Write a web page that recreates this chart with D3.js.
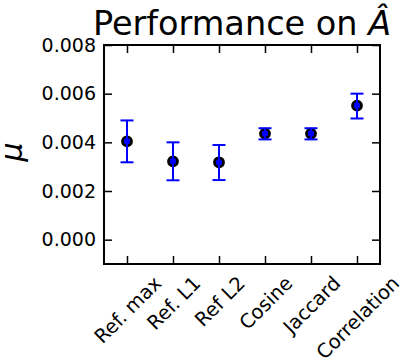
<!DOCTYPE html>
<html><head><meta charset="utf-8">
<script src="https://cdn.jsdelivr.net/npm/d3@7"></script>
<style>body{margin:0;background:#fff}svg{display:block}text{font-family:"DejaVu Sans",sans-serif;fill:#000}</style>
</head><body>
<script>
const categories = ["Ref. max","Ref. L1","Ref L2","Cosine","Jaccard","Correlation"];
const means = [0.00404,0.00322,0.00318,0.00436,0.00436,0.00551];
const lower = [0.00318,0.00244,0.00245,0.00412,0.00412,0.00498];
const upper = [0.00490,0.00400,0.00389,0.00458,0.00458,0.00600];
const yTicks = [0.000,0.002,0.004,0.006,0.008];

(function(){
const W=402,H=362;
const m={l:104,r:380,t:45,b:264};
const svg=d3.select("body").append("svg").attr("width",W).attr("height",H);
const x=d3.scaleLinear().domain([-0.5,5.5]).range([m.l,m.r]);
const y=d3.scaleLinear().domain([-0.001,0.008]).range([m.b,m.t]);

const fmt=d3.format(".3f");
const gl=svg.append("g").attr("transform",`translate(${m.l},0)`)
 .call(d3.axisLeft(y).tickValues(yTicks).tickFormat(fmt).tickSizeInner(-8).tickSizeOuter(0).tickPadding(8));
const gr=svg.append("g").attr("transform",`translate(${m.r},0)`)
 .call(d3.axisRight(y).tickValues(yTicks).tickFormat("").tickSizeInner(-8).tickSizeOuter(0));
const gb=svg.append("g").attr("transform",`translate(0,${m.b})`)
 .call(d3.axisBottom(x).tickValues(d3.range(categories.length)).tickFormat("").tickSizeInner(-8).tickSizeOuter(0));
const gt=svg.append("g").attr("transform",`translate(0,${m.t})`)
 .call(d3.axisTop(x).tickValues(d3.range(categories.length)).tickFormat("").tickSizeInner(-8).tickSizeOuter(0));
[gl,gr,gb,gt].forEach(g=>{g.select(".domain").remove();g.selectAll("line").attr("stroke","#000").attr("stroke-width",1.5);});
gl.selectAll("text").style("font-size","19px").attr("font-family","DejaVu Sans").attr("fill","#000");

svg.append("rect").attr("x",m.l).attr("y",m.t).attr("width",m.r-m.l).attr("height",m.b-m.t)
 .attr("fill","none").attr("stroke","#000").attr("stroke-width",2);

const fs=19.5, labTop=m.b+9;
categories.forEach((c,i)=>{
  const t=svg.append("text").text(c).style("font-size",fs+"px").attr("text-anchor","middle").attr("dominant-baseline","central");
  const w=t.node().getComputedTextLength();
  const half=(w+fs*1.0)/(2*Math.SQRT2);
  t.attr("transform",`translate(${x(i)+1},${labTop+half}) rotate(-45)`);
});

const data=categories.map((c,i)=>({i,m:means[i],lo:lower[i],hi:upper[i]}));
const g=svg.append("g");
g.selectAll("circle.ring").data(data).join("circle").attr("class","ring")
 .attr("cx",d=>x(d.i)).attr("cy",d=>y(d.m)).attr("r",4.5).attr("fill","#0000ff").attr("stroke","#000").attr("stroke-width",2.8);
g.selectAll("line.eb").data(data).join("line").attr("class","eb")
 .attr("x1",d=>x(d.i)).attr("x2",d=>x(d.i)).attr("y1",d=>y(d.lo)).attr("y2",d=>y(d.hi)).attr("stroke","#0000ff").attr("stroke-width",2);
["lo","hi"].forEach(k=>{
 g.selectAll("line.cap"+k).data(data).join("line").attr("class","cap"+k)
  .attr("x1",d=>x(d.i)-6.5).attr("x2",d=>x(d.i)+6.5).attr("y1",d=>y(d[k])).attr("y2",d=>y(d[k])).attr("stroke","#0000ff").attr("stroke-width",2);
});
g.selectAll("circle.dot").data(data).join("circle").attr("class","dot")
 .attr("cx",d=>x(d.i)).attr("cy",d=>y(d.m)).attr("r",3).attr("fill","#0000ff");

const title=svg.append("text").attr("x",(m.l+m.r)/2).attr("y",35).attr("text-anchor","middle").style("font-size","33.5px");
title.append("tspan").text("Performance on ");
title.append("tspan").text("Â").style("font-style","italic");

svg.append("text").attr("transform",`translate(22,152) rotate(-90)`).attr("text-anchor","middle")
 .style("font-size","30px").style("font-style","italic").text("μ");
})();
</script>
</body></html>
